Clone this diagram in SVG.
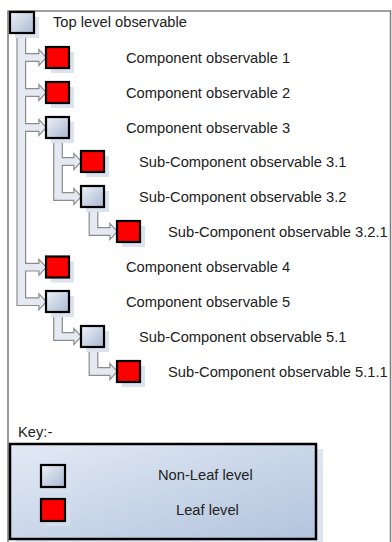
<svg xmlns="http://www.w3.org/2000/svg" width="392" height="542" viewBox="0 0 392 542">
<style>
text{font-family:"Liberation Sans",Arial,sans-serif;font-size:14.7px;fill:#222}
.box{stroke:#000;stroke-width:2.2}
.nl{fill:url(#gNL)}
.lf{fill:#f00}
.sh{fill:#dbe3ef}
.pipeO{fill:#e4e9f2;stroke:#8c8c8c;stroke-width:2.4;stroke-linejoin:miter}
.pipeF{fill:#e4e9f2;stroke:none}
</style>
<defs>
<linearGradient id="gNL" x1="0" y1="0" x2="1" y2="1">
<stop offset="0" stop-color="#eef2f8"/>
<stop offset="1" stop-color="#a8b8d0"/>
</linearGradient>
<linearGradient id="gKey" x1="0" y1="0" x2="1" y2="1">
<stop offset="0" stop-color="#e3eaf5"/>
<stop offset="1" stop-color="#b2c4dd"/>
</linearGradient>
<path id="c0" d="M17.6,33 H25 V301.5 H17.6 Z
M21,54.3 H39.5 V51 L45.5,57.5 L39.5,64 V60.7 H21 Z
M21,89.3 H39.5 V86 L45.5,92.5 L39.5,99 V95.7 H21 Z
M21,124.3 H39.5 V121 L45.5,127.5 L39.5,134 V130.7 H21 Z
M21,264 H39.5 V260.7 L45.5,267.2 L39.5,273.7 V270.4 H21 Z
M17.6,298.5 H39.5 V295.2 L45.5,301.7 L39.5,308.2 V304.9 H17.6 Z"/>
<path id="c3" d="M54.3,138 H61.7 V199.7 H54.3 Z
M58,158.3 H74.5 V155 L80.5,161.5 L74.5,168 V164.7 H58 Z
M54.3,193.3 H74.5 V190 L80.5,196.5 L74.5,203 V199.7 H54.3 Z"/>
<path id="c32" d="M89.8,207 H97.2 V234.7 H89.8 Z
M89.8,228.3 H110.5 V225 L116.5,231.5 L110.5,238 V234.7 H89.8 Z"/>
<path id="c5" d="M54.3,312 H61.7 V339.7 H54.3 Z
M54.3,333.3 H74.5 V330 L80.5,336.5 L74.5,343 V339.7 H54.3 Z"/>
<path id="c51" d="M89.8,347 H97.2 V374.7 H89.8 Z
M89.8,368.3 H110.5 V365 L116.5,371.5 L110.5,378 V374.7 H89.8 Z"/>
</defs>

<path d="M8,542 V11 H390.5 V542" fill="none" stroke="#808080" stroke-width="1.6"/>

<g id="connectors">
<use href="#c0" class="pipeO"/><use href="#c0" class="pipeF"/>
<use href="#c3" class="pipeO"/><use href="#c3" class="pipeF"/>
<use href="#c32" class="pipeO"/><use href="#c32" class="pipeF"/>
<use href="#c5" class="pipeO"/><use href="#c5" class="pipeF"/>
<use href="#c51" class="pipeO"/><use href="#c51" class="pipeF"/>
</g>

<g id="top">
<rect class="sh" x="15" y="17" width="24" height="21"/>
<rect class="box nl" x="10" y="12" width="24" height="21"/>
<text x="53" y="27">Top level observable</text>
</g>
<g id="comp1">
<rect class="sh" x="51" y="52" width="23" height="21"/>
<rect class="box lf" x="46" y="47" width="23" height="21"/>
<text x="126" y="62.5">Component observable 1</text>
</g>
<g id="comp2">
<rect class="sh" x="51" y="87" width="23" height="21"/>
<rect class="box lf" x="46" y="82" width="23" height="21"/>
<text x="126" y="97.5">Component observable 2</text>
</g>
<g id="comp3">
<rect class="sh" x="51" y="122" width="23" height="21"/>
<rect class="box nl" x="46" y="117" width="23" height="21"/>
<text x="126" y="132.5">Component observable 3</text>
</g>
<g id="sub31">
<rect class="sh" x="86" y="156" width="23" height="21"/>
<rect class="box lf" x="81" y="151" width="23" height="21"/>
<text x="139" y="166.5">Sub-Component observable 3.1</text>
</g>
<g id="sub32">
<rect class="sh" x="86" y="191" width="23" height="21"/>
<rect class="box nl" x="81" y="186" width="23" height="21"/>
<text x="139" y="201.5">Sub-Component observable 3.2</text>
</g>
<g id="sub321">
<rect class="sh" x="122" y="226" width="23" height="21"/>
<rect class="box lf" x="117" y="221" width="23" height="21"/>
<text x="168" y="236.5">Sub-Component observable 3.2.1</text>
</g>
<g id="comp4">
<rect class="sh" x="51" y="261.5" width="23" height="21"/>
<rect class="box lf" x="46" y="256.5" width="23" height="21"/>
<text x="126" y="272">Component observable 4</text>
</g>
<g id="comp5">
<rect class="sh" x="51" y="296" width="23" height="21"/>
<rect class="box nl" x="46" y="291" width="23" height="21"/>
<text x="126" y="306.5">Component observable 5</text>
</g>
<g id="sub51">
<rect class="sh" x="86" y="331" width="23" height="21"/>
<rect class="box nl" x="81" y="326" width="23" height="21"/>
<text x="139" y="341.5">Sub-Component observable 5.1</text>
</g>
<g id="sub511">
<rect class="sh" x="122" y="366" width="23" height="21"/>
<rect class="box lf" x="117" y="361" width="23" height="21"/>
<text x="168" y="376.5">Sub-Component observable 5.1.1</text>
</g>

<g id="key">
<text x="18" y="437">Key:-</text>
<rect x="16" y="449" width="307" height="93" fill="#dde5f0"/>
<rect x="10" y="444" width="306" height="95" fill="url(#gKey)" stroke="#000" stroke-width="2.5"/>
<rect class="sh" x="46" y="470" width="24" height="22" fill-opacity="0.6"/>
<rect class="box nl" x="41" y="465" width="24" height="22"/>
<text x="158" y="480">Non-Leaf level</text>
<rect class="sh" x="46" y="504" width="24" height="22" fill-opacity="0.6"/>
<rect class="box lf" x="41" y="499" width="24" height="22"/>
<text x="176" y="515">Leaf level</text>
</g>
</svg>
